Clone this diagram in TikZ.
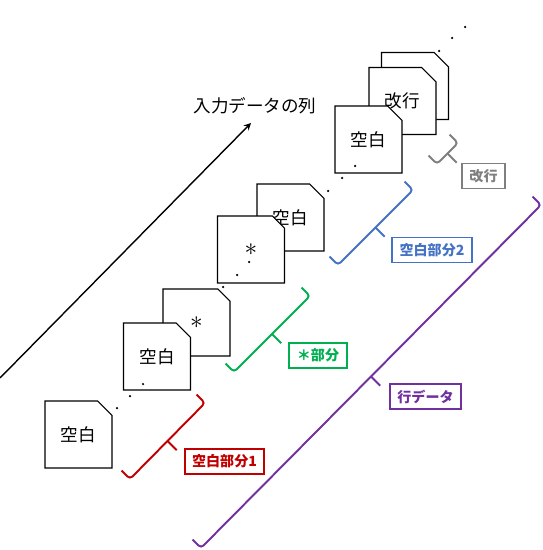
\documentclass[tikz,border=0pt]{standalone}
\usepackage{fontspec}
\setmainfont{Noto Sans CJK JP}
\usepackage{tikz}
\usetikzlibrary{calc,shapes.misc}
\definecolor{kred}{HTML}{C00000}
\definecolor{kgreen}{HTML}{00B050}
\definecolor{kblue}{HTML}{4472C4}
\definecolor{kgrey}{HTML}{7F7F7F}
\definecolor{kpurple}{HTML}{7030A0}

% brace from corner #2 to corner #3, hooks towards the cards
\newcommand{\kakko}[3]{%
    \coordinate (#2m) at ($(#2)!0.5!(#3)$);
    \draw[#1, line width=1.1pt, rounded corners=2pt] ($(#2)!0.24cm!90:(#3)$) -- (#2) -- (#3) -- ($(#3)!0.24cm!-90:(#2)$);
    \draw[#1, line width=1.1pt] (#2m) -- ($(#2m)!0.26cm!-90:(#3)$);
}

\begin{document}
\begin{tikzpicture}[x=0.02cm, y=-0.02cm]
    \tikzstyle{card}=[chamfered rectangle, chamfered rectangle corners=north east, chamfered rectangle xsep=0.21cm, draw, semithick, fill=white, minimum width=1.34cm, minimum height=1.34cm, inner sep=0pt]
    \tikzstyle{tag}=[draw, line width=1.1pt, font=\footnotesize\bfseries, minimum height=0.5cm, inner xsep=0.15cm, inner ysep=0pt]
    \useasboundingbox (0,0) rectangle (542,550);

    % cards, back to front
    \node[card] (h) at (415,86) {\phantom{改行}};
    \node[card] (g) at (402.5,101) {改行};
    \node[card] (f) at (368.5,139.5) {空白};
    \node[card] (e) at (290.5,217.5) {空白};
    \node[card] (d) at (251,249.5) {\Large$\ast$};
    \node[card] (c) at (196.5,322.5) {\Large$\ast$};
    \node[card] (b) at (157,356.5) {空白};
    \node[card] (a) at (78.5,434.5) {空白};

    \foreach \x/\y in {117/408, 130/396, 143/384, 223/287, 237/275, 249/262,
                       328/191, 342/178, 355/166, 439/51, 452/38, 465/27} {
        \fill (\x,\y) circle (0.025cm);
    }

    % direction of the input
    \coordinate (s0) at (0,378);
    \coordinate (s1) at (251,123);
    \draw[->, thick, >=stealth] (s0) -- (s1);
    \node (title) at (255,106) {入力データの列};

    % braces
    \coordinate (r1) at (130,479);  \coordinate (r2) at (205,403);
    \coordinate (g1) at (234,372);  \coordinate (g2) at (310,296);
    \coordinate (b1) at (338,265);  \coordinate (b2) at (413,190);
    \coordinate (k1) at (437,164);  \coordinate (k2) at (458,143);
    \coordinate (p1) at (201,548);  \coordinate (p2) at (541,205);
    \kakko{kred}{r1}{r2}
    \kakko{kgreen}{g1}{g2}
    \kakko{kblue}{b1}{b2}
    \kakko{kgrey}{k1}{k2}
    \kakko{kpurple}{p1}{p2}

    \node[tag, kred] (lr) at (224.5,461.5) {空白部分1};
    \node[tag, kgreen] (lg) at (318,355.5) {＊部分};
    \node[tag, kblue] (lb) at (432,250) {空白部分2};
    \node[tag, kgrey] (lk) at (483.5,176) {改行};
    \node[tag, kpurple] (lp) at (425.5,396.5) {行データ};
\end{tikzpicture}
\end{document}
